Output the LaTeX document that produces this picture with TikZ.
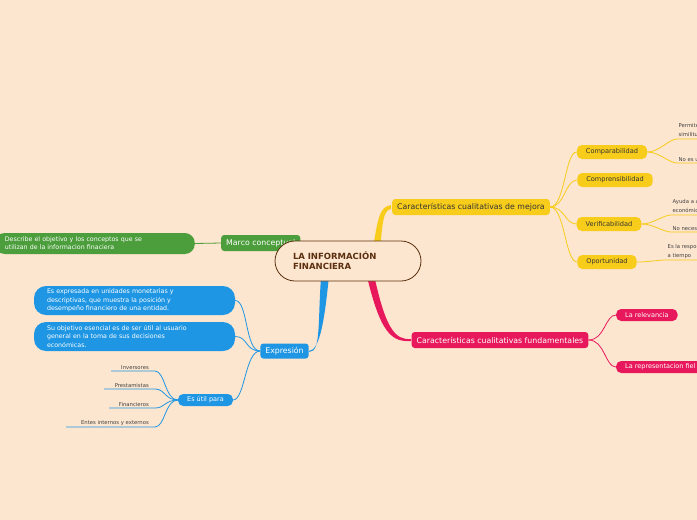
\documentclass[tikz,border=0pt]{standalone}
\usepackage{fontspec}
\setmainfont{DejaVu Sans}
\begin{document}
\begin{tikzpicture}[x=1pt,y=-1pt,
  every node/.style={inner sep=0pt},
  ylw/.style={fill=Y,rounded corners=5pt,minimum height=14pt,font=\fontsize{6.6}{7}\selectfont,text=black!80,inner xsep=9pt},
  red/.style={fill=R,rounded corners=3pt,minimum height=16pt,font=\fontsize{7.8}{8}\selectfont,text=white,inner xsep=5pt},
  redsm/.style={fill=R,rounded corners=5pt,minimum height=12pt,font=\fontsize{6.5}{7}\selectfont,text=white,inner xsep=9pt},
  blu/.style={fill=B,rounded corners=3pt,minimum height=15pt,font=\fontsize{7.8}{8}\selectfont,text=white,inner xsep=5pt},
  bubble/.style={fill=B,rounded corners=12pt,minimum height=29pt,minimum width=201pt,font=\fontsize{6.3}{8.5}\selectfont,text=white,align=left,text width=175pt},
  leaf/.style={font=\fontsize{5.3}{6.5}\selectfont,text=black!75,anchor=south east,inner sep=1pt},
  leafr/.style={font=\fontsize{5.3}{8.5}\selectfont,text=black!75,anchor=south west,inner sep=1.5pt,align=left},
  yl/.style={draw=Y,line width=0.8pt},
  bl/.style={draw=B,line width=0.8pt},
  rl/.style={draw=R,line width=0.8pt}]
\definecolor{BG}{HTML}{FDE6CF}
\definecolor{Y}{HTML}{F8CC1B}
\definecolor{R}{HTML}{E8185C}
\definecolor{G}{HTML}{4B9E3B}
\definecolor{B}{HTML}{1E96E4}
\definecolor{BR}{HTML}{5A2E0E}
\fill[BG] (0,0) rectangle (697,520);
\useasboundingbox (0,0) rectangle (697,520);
\clip (0,0) rectangle (697,520);
% branch nodes
\node[ylw,rounded corners=3pt,minimum height=16pt,font=\fontsize{7.8}{8}\selectfont,inner xsep=5pt] (mej) at (471,207) {Características cualitativas de mejora};
\node[ylw] (comp) at (612,152) {Comparabilidad};
\node[ylw] (compr) at (615,180) {Comprensibilidad};
\node[ylw] (ver) at (609,224) {Verificabilidad};
\node[ylw] (opo) at (607,262) {Oportunidad};
\node[red] (fun) at (500,340) {Características cualitativas fundamentales};
\node[redsm,anchor=west] (rel) at (616,315) {La relevancia};
\node[redsm,anchor=west] (rep) at (616,367) {La representacion fiel};
\node[fill=G,rounded corners=3pt,minimum height=16pt,font=\fontsize{7.8}{8}\selectfont,text=white,inner xsep=5pt,anchor=west] (mar) at (221,243) {Marco conceptual};
\node[fill=G,rounded corners=10pt,minimum height=21pt,minimum width=200pt,font=\fontsize{6.3}{8}\selectfont,text=white,align=left,text width=180pt,anchor=east] (desc) at (195,243.5) {Describe el objetivo y los conceptos que se\\utilizan de la informacion finaciera};
\node[blu] (exp) at (284.5,351) {Expresión};
\node[bubble] (b1) at (134.5,300.5) {Es expresada en unidades monetarias y\\descriptivas, que muestra la posición y\\desempeño financiero de una entidad.};
\node[bubble] (b2) at (134.5,336.5) {Su objetivo esencial es de ser útil al usuario\\general en la toma de sus decisiones\\económicas.};
\node[blu,rounded corners=5pt,minimum height=12pt,font=\fontsize{6.5}{7}\selectfont,inner xsep=9pt] (util) at (205.5,400) {Es útil para};
% leaves of Es util para
\foreach \n/\t/\y/\x in {i/Inversores/371/111,p/Prestamistas/389/104,f/Financieros/408/109,e/Entes internos y externos/427/66}{
  \node[leaf] (\n) at (150,\y) {\t};
  \coordinate (\n a) at (\x,\y);
  \draw[bl] (\n a) -- (155,\y) .. controls (165,\y) and (165,400) .. (util.west);
}
% right leaves
\foreach \n/\t/\y/\x/\p in {a/{Permite identificar y comprender\\similitudes y diferencias}/139/677/comp,
  b/{No es una cualidad}/163/677/comp,
  c/{Ayuda a asegurar que la información\\económica representa fielmente}/215/671/ver,
  d/{No  necesariamente es un acuerdo}/232/671/ver,
  e2/{Es la responsabilidad de la información\\a tiempo}/260/666/opo}{
  \node[leafr] (\n) at (\x,\y) {\t};
  \coordinate (\n a) at (697,\y);
  \draw[yl] (\p.east) .. controls ([xshift=12pt]\p.east) and (\x-8,\y) .. (\x,\y) -- (\n a);
}
% connectors
\foreach \c in {comp,compr,ver,opo}{
  \draw[yl] (mej.east) .. controls (565,207) and (565,|-\c.west) .. (\c.west);
}
\foreach \c in {rel,rep}{
  \draw[rl] (fun.east) .. controls (605,340) and (605,|-\c.west) .. (\c.west);
}
\draw[draw=G,line width=0.8pt] (desc.east) -- (mar.west);
\foreach \c in {b1,b2}{
  \draw[bl] (exp.west) .. controls (245,351) and (248,|-\c.east) .. (\c.east);
}
\draw[bl] (exp.west) .. controls (245,351) and (245,400) .. (util.east);
% main branches
\fill[Y] (372,255) .. controls (378,215) and (380,207) .. (391,205) -- (391,209) .. controls (384,210) and (382,220) .. (380,255) -- cycle;
\fill[R] (372,265) .. controls (385,330) and (395,340) .. (411,339) -- (411,341) .. controls (392,342) and (380,335) .. (365,268) -- cycle;
\fill[B] (330,265) .. controls (325,320) and (320,350) .. (309,351) -- (309,352) .. controls (322,352) and (317,320) .. (322,265) -- cycle;
% center
\node[draw=BR,fill=BG,line width=0.8pt,rounded corners=20pt,minimum width=146pt,minimum height=40pt,font=\bfseries\fontsize{8.5}{10}\selectfont,text=BR,align=left,text width=110pt] (c) at (348,261) {LA INFORMACIÓN\\FINANCIERA};
\end{tikzpicture}
\end{document}
